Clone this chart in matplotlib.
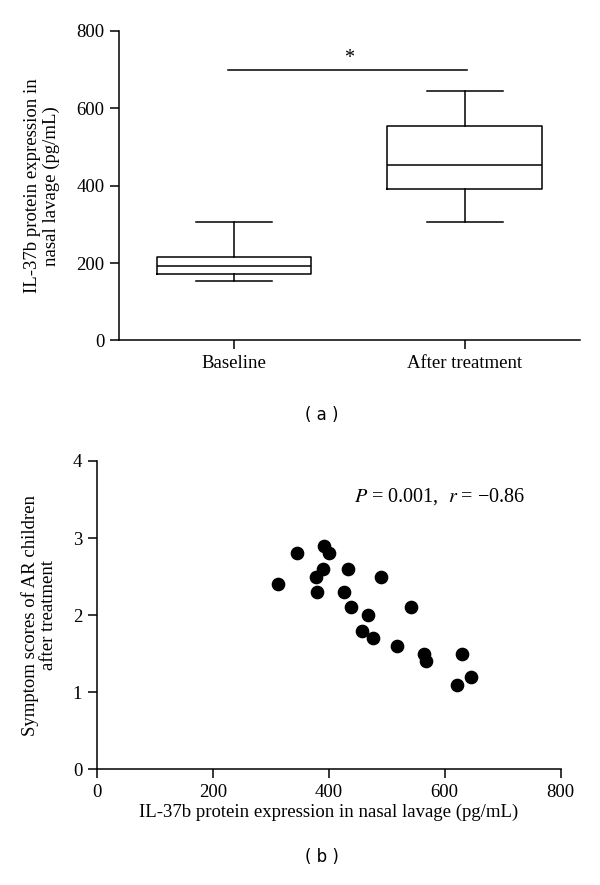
import matplotlib
matplotlib.use("Agg")
import matplotlib.pyplot as plt

plt.rcParams['font.family'] = ['Liberation Serif', 'DejaVu Serif']
plt.rcParams['mathtext.fontset'] = 'stix'

# Panel (a) box statistics
groups = ["Baseline", "After treatment"]
whislo = [153, 307]
q1 = [172, 391]
med = [193, 454]
q3 = [217, 554]
whishi = [307, 645]
sig_y = 700

# Panel (b) scatter data
il37b = [313, 346, 392, 400, 390, 378, 380, 433, 490, 426, 438, 467, 542,
         458, 477, 518, 564, 568, 630, 645, 621]
symptom = [2.4, 2.8, 2.9, 2.8, 2.6, 2.5, 2.3, 2.6, 2.5, 2.3, 2.1, 2.0, 2.1,
           1.8, 1.7, 1.6, 1.5, 1.4, 1.5, 1.2, 1.1]

fig = plt.figure(figsize=(6, 8.85), dpi=100)

lw = 1.1
fs = 13.5

# ---------- Panel (a) ----------
ax1 = fig.add_axes([0.1983, 0.6153, 0.768, 0.3497])
stats = []
for i, g in enumerate(groups):
    stats.append(dict(label=g, whislo=whislo[i], q1=q1[i], med=med[i],
                      q3=q3[i], whishi=whishi[i], fliers=[]))
ax1.bxp(stats, positions=[1, 2], widths=0.67, showfliers=False,
        boxprops=dict(color='black', linewidth=lw),
        medianprops=dict(color='black', linewidth=lw),
        whiskerprops=dict(color='black', linewidth=lw),
        capprops=dict(color='black', linewidth=lw),
        capwidths=0.33)
ax1.set_xlim(0.5, 2.5)
ax1.set_ylim(0, 800)
ax1.set_yticks([0, 200, 400, 600, 800])
ax1.spines['top'].set_visible(False)
ax1.spines['right'].set_visible(False)
for s in ['left', 'bottom']:
    ax1.spines[s].set_linewidth(lw)
ax1.tick_params(direction='out', length=6.5, width=lw, labelsize=fs, pad=4)
ax1.set_xticks([1, 2])
ax1.set_xticklabels(groups, fontsize=fs)
ax1.set_ylabel("IL-37b protein expression in\nnasal lavage (pg/mL)",
               fontsize=fs, labelpad=12, linespacing=1.1)
ax1.plot([0.975, 2.01], [sig_y, sig_y], color='black', linewidth=lw)
ax1.text(1.5, sig_y + 5, "*", ha='center', va='bottom', fontsize=fs + 1)

fig.text(322 / 600, 1 - 415 / 885, "( a )", ha='center', va='center',
         fontsize=12, family='DejaVu Sans')

# ---------- Panel (b) ----------
ax2 = fig.add_axes([0.1612, 0.1307, 0.7733, 0.3484])
ax2.scatter(il37b, symptom, s=78, color='black', zorder=3, clip_on=False)
ax2.set_xlim(0, 800)
ax2.set_ylim(0, 4)
ax2.set_xticks([0, 200, 400, 600, 800])
ax2.set_yticks([0, 1, 2, 3, 4])
ax2.spines['top'].set_visible(False)
ax2.spines['right'].set_visible(False)
for s in ['left', 'bottom']:
    ax2.spines[s].set_linewidth(lw)
ax2.tick_params(direction='out', length=6.5, width=lw, labelsize=fs, pad=4)
ax2.set_xlabel("IL-37b protein expression in nasal lavage (pg/mL)",
               fontsize=fs, labelpad=2)
ax2.set_ylabel("Symptom scores of AR children\nafter treatment",
               fontsize=fs, labelpad=11, linespacing=1.1)
ax2.text(443, 3.54, r"$P$ = 0.001,  $r$ = −0.86", ha='left', va='center',
         fontsize=14.5)

fig.text(322 / 600, 1 - 857 / 885, "( b )", ha='center', va='center',
         fontsize=12, family='DejaVu Sans')

fig.savefig("out.png", dpi=100)
